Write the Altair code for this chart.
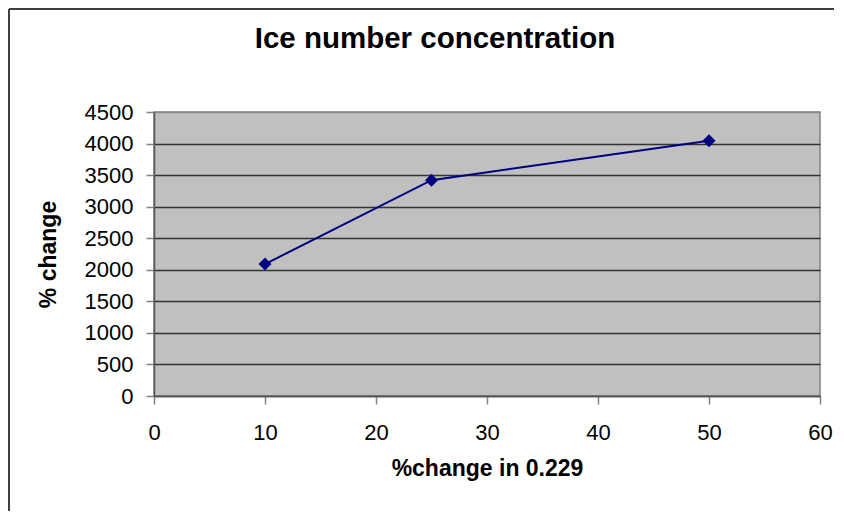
import altair as alt
import pandas as pd

# data
x_vals = [10, 25, 50]
y_vals = [2090, 3420, 4045]
x_ticks = [0, 10, 20, 30, 40, 50, 60]
y_ticks = [0, 500, 1000, 1500, 2000, 2500, 3000, 3500, 4000, 4500]

df = pd.DataFrame({"x": x_vals, "y": y_vals})

FONT = "Liberation Sans"
NAVY = "#000080"

x_enc = alt.X(
    "x:Q",
    scale=alt.Scale(domain=[0, 60], nice=False, zero=False),
    axis=alt.Axis(
        values=x_ticks,
        format="d",
        title="%change in 0.229",
        grid=False,
        tickSize=8,
        tickColor="#808080",
        tickWidth=1.5,
        domainColor="#555555",
        domainWidth=1.5,
        labelFontSize=22,
        labelFont=FONT,
        labelColor="black",
        labelBaseline="alphabetic",
        labelPadding=35,
        labelFlush=False,
        labelOverlap=False,
        titleFont=FONT,
        titleFontSize=23,
        titleFontWeight="bold",
        titleColor="black",
        titleBaseline="alphabetic",
        titleY=79,
    ),
)
y_enc = alt.Y(
    "y:Q",
    scale=alt.Scale(domain=[0, 4500], nice=False, zero=True),
    axis=alt.Axis(
        values=y_ticks,
        format="d",
        title="% change",
        grid=True,
        gridColor={"condition": {"test": "datum.value === 4500", "value": "#8a8a8a"}, "value": "#333333"},
        gridWidth=1.3,
        tickSize=8,
        tickColor="#808080",
        tickWidth=1.5,
        domainColor="#555555",
        domainWidth=1.5,
        labelFontSize=22,
        labelFont=FONT,
        labelColor="black",
        labelPadding=13,
        labelFlush=False,
        labelOverlap=False,
        titleFont=FONT,
        titleFontSize=23,
        titleFontWeight="bold",
        titleColor="black",
        titleAngle=-90,
        titleBaseline="middle",
        titleX=-106,
        titleY=142,
    ),
)

line = alt.Chart(df).mark_line(color=NAVY, strokeWidth=2).encode(x=x_enc, y=y_enc)
points = alt.Chart(df).mark_point(
    shape="diamond", filled=True, size=170, color=NAVY, opacity=1
).encode(x=x_enc, y=y_enc)

one = pd.DataFrame({"a": [0]})
border_left = alt.Chart(one).mark_rule(color="#404040", strokeWidth=2).encode(
    x=alt.value(-145), y=alt.value(-103), y2=alt.value(430)
)
border_top = alt.Chart(one).mark_rule(color="#404040", strokeWidth=2).encode(
    x=alt.value(-145), x2=alt.value(760), y=alt.value(-103)
)

chart = (
    alt.layer(border_left, border_top, line, points)
    .properties(
        width=666,
        height=284,
        background="white",
        title=alt.TitleParams(
            "Ice number concentration",
            font=FONT,
            fontSize=29.5,
            fontWeight="bold",
            color="black",
            anchor="middle",
            baseline="alphabetic",
            dx=-52,
            dy=69,
            offset=0,
        ),
        autosize=alt.AutoSizeParams(type="none"),
        padding={"left": 146, "top": 104, "right": 14, "bottom": 115},
    )
    .configure_view(fill="#C0C0C0", stroke="#808080", strokeWidth=1.5)
)

chart.save("out.html", embed_options={"renderer": "svg", "actions": False})
